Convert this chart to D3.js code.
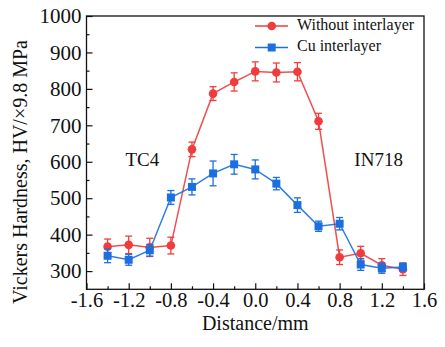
<!DOCTYPE html>
<html><head><meta charset="utf-8">
<script src="https://cdn.jsdelivr.net/npm/d3@7"></script>
<style>body{margin:0;background:#fff}svg{display:block}svg text{font-family:'Liberation Serif','Times New Roman',serif !important}</style>
</head><body><svg id="c" width="445" height="347"></svg>
<script>
const distance = [-1.4,-1.2,-1.0,-0.8,-0.6,-0.4,-0.2,0.0,0.2,0.4,0.6,0.8,1.0,1.2,1.4];
const withoutVals = [367,372,365,370,634,787,819,848,845,847,711,338,349,316,305];
const withoutErr  = [21,24,25,23,20,19,25,26,26,25,22,20,19,18,17];
const cuVals = [342,331,357,502,531,568,593,579,540,481,423,430,318,308,311];
const cuErr  = [19,15,16,19,22,34,27,26,17,20,14,17,16,14,11];
const seriesNames = ["Without interlayer","Cu interlayer"];
const xTicks = [-1.6,-1.2,-0.8,-0.4,0.0,0.4,0.8,1.2,1.6];
const yTicks = [300,400,500,600,700,800,900,1000];
const regionLabels = [{t:"TC4",x:-1.07,y:600},{t:"IN718",x:1.17,y:600}];

const FONT="'Liberation Serif', 'Times New Roman', serif";
const red="#F03C3C", blue="#1C6FE0";
const svg=d3.select("#c").attr("font-family",FONT);
const L=86.5,R=424,T=16,B=289.3;
const x=d3.scaleLinear().domain([-1.6,1.6]).range([L,R]);
const y=d3.scaleLinear().domain([250,1000]).range([B,T]);

svg.append("rect").attr("x",L).attr("y",T).attr("width",R-L).attr("height",B-T).attr("fill","none").attr("stroke","#111").attr("stroke-width",1.3);

const fx=v=>d3.format(".1f")(v).replace("−","-");
const xMinor=[-1.4,-1.0,-0.6,-0.2,0.2,0.6,1.0,1.4];
const gx=svg.append("g").attr("transform",`translate(0,${B})`)
  .call(d3.axisBottom(x).tickValues(xTicks).tickSize(-6).tickPadding(3).tickFormat(fx));
gx.attr("font-family",FONT).attr("font-size",20.5);
gx.select(".domain").remove();
gx.selectAll("text").attr("fill","#111");
gx.selectAll("line").attr("stroke","#111").attr("stroke-width",1.2);
const gxm=svg.append("g").attr("transform",`translate(0,${B})`)
  .call(d3.axisBottom(x).tickValues(xMinor).tickSize(-3).tickFormat(""));
gxm.select(".domain").remove();
gxm.selectAll("line").attr("stroke","#111").attr("stroke-width",1.2);

const yMinor=[350,450,550,650,750,850,950];
const gy=svg.append("g").attr("transform",`translate(${L},0)`)
  .call(d3.axisLeft(y).tickValues(yTicks).tickSize(-6).tickPadding(5).tickFormat(d3.format("d")));
gy.attr("font-family",FONT).attr("font-size",21);
gy.select(".domain").remove();
gy.selectAll("text").attr("fill","#111");
gy.selectAll("line").attr("stroke","#111").attr("stroke-width",1.2);
const gym=svg.append("g").attr("transform",`translate(${L},0)`)
  .call(d3.axisLeft(y).tickValues(yMinor).tickSize(-3).tickFormat(""));
gym.select(".domain").remove();
gym.selectAll("line").attr("stroke","#111").attr("stroke-width",1.2);

svg.append("text").attr("x",(L+R)/2).attr("y",330).attr("text-anchor","middle").attr("font-size",20).attr("fill","#111").text("Distance/mm");
svg.append("text").attr("transform",`translate(27,172) rotate(-90)`).attr("text-anchor","middle").attr("font-size",20).attr("fill","#111").text("Vickers Hardness, HV/×9.8 MPa");

regionLabels.forEach(r=>{
  svg.append("text").attr("x",x(r.x)).attr("y",y(r.y)).attr("text-anchor","middle").attr("dominant-baseline","middle").attr("font-size",19).attr("fill","#111").text(r.t);
});

function drawSeries(vals,errs,color,shape){
  const pts=distance.map((d,i)=>({x:d,v:vals[i],e:errs[i]}));
  const g=svg.append("g");
  g.append("path").datum(pts).attr("fill","none").attr("stroke",color).attr("stroke-width",1.5).attr("opacity",0.9)
    .attr("d",d3.line().x(p=>x(p.x)).y(p=>y(p.v)));
  pts.forEach(p=>{
    const cx=x(p.x), y1=y(p.v+p.e), y2=y(p.v-p.e);
    g.append("line").attr("x1",cx).attr("x2",cx).attr("y1",y1).attr("y2",y2).attr("stroke",color).attr("stroke-width",1.3);
    [y1,y2].forEach(yy=>g.append("line").attr("x1",cx-3.5).attr("x2",cx+3.5).attr("y1",yy).attr("y2",yy).attr("stroke",color).attr("stroke-width",1.3));
    if(shape==="circle") g.append("circle").attr("cx",cx).attr("cy",y(p.v)).attr("r",4.3).attr("fill",color);
    else g.append("rect").attr("x",cx-4).attr("y",y(p.v)-4).attr("width",8).attr("height",8).attr("fill",color);
  });
}
drawSeries(withoutVals,withoutErr,red,"circle");
drawSeries(cuVals,cuErr,blue,"square");

const leg=[{n:seriesNames[0],c:red,s:"circle",y:26},{n:seriesNames[1],c:blue,s:"square",y:47.5}];
leg.forEach(l=>{
  svg.append("line").attr("x1",255).attr("x2",288).attr("y1",l.y).attr("y2",l.y).attr("stroke",l.c).attr("stroke-width",1.5);
  if(l.s==="circle") svg.append("circle").attr("cx",271.7).attr("cy",l.y).attr("r",4.3).attr("fill",l.c);
  else svg.append("rect").attr("x",267.7).attr("y",l.y-4).attr("width",8).attr("height",8).attr("fill",l.c);
  svg.append("text").attr("x",297).attr("y",l.y).attr("dominant-baseline","middle").attr("font-size",16).attr("fill","#111").text(l.n);
});
</script></body></html>
